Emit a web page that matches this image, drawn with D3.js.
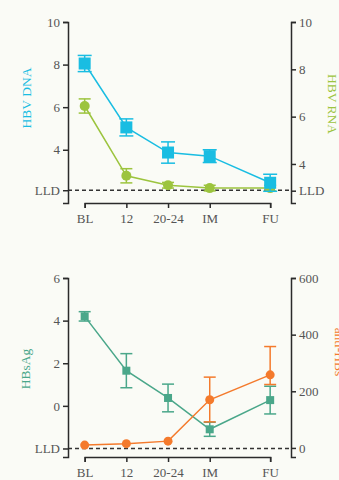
<!DOCTYPE html>
<html>
<head>
<meta charset="utf-8">
<script src="https://cdn.jsdelivr.net/npm/d3@7"></script>
<style>
  body { margin: 0; background: #fafbf6; }
  svg { display: block; font-family: "Liberation Serif", "DejaVu Serif", serif; }
</style>
</head>
<body>
<div id="root"></div>
<script>
// categories on the x axis (FU sits a bit further out)
const categories = ["BL", "12", "20-24", "IM", "FU"];
const catSlots = [0, 1, 2, 3, 4.45];

// top panel
const dnaMean = [8.05, 5.05, 3.87, 3.7, 2.45];
const dnaErr = [0.38, 0.4, 0.5, 0.3, 0.4];
const rnaMean = [6.45, 3.5, 3.1, 2.98, 2.98];
const rnaErr = [0.3, 0.3, 0.12, 0.12, 0.12];
const leftTicksTop = [4, 6, 8, 10];
const rightTicksTop = [4, 6, 8, 10];
const lldTopLeft = 2.1;
const lldTopRight = 2.87;

// bottom panel
const hbsMean = [4.2, 1.65, 0.37, -1.1, 0.27];
const hbsErr = [0.22, 0.8, 0.65, 0.33, 0.65];
const antiMean = [10, 15, 24, 170, 258];
const antiErrUp = [0, 0, 0, 80, 100];
const antiErrDown = [0, 0, 0, 78, 34];
const leftTicksBottom = [0, 2, 4, 6];
const rightTicksBottom = [0, 200, 400, 600];
const lldBottom = -2;

const W = 339, H = 480;
const left = 68, right = 291;
const blue = "#19bde2", green = "#9cc43e", teal = "#4aa78a", orange = "#f47a2c";
const axisColor = "#2b2b2b", tickText = "#555";

const svg = d3.select("#root").append("svg")
  .attr("width", W).attr("height", H);

const slot = d3.scaleLinear().domain([-0.4, 4.95]).range([left, right]);
const x = d3.scaleOrdinal().domain(categories).range(catSlots.map(slot));

function panel(cfg) {
  const g = svg.append("g");
  const yL = d3.scaleLinear().domain(cfg.leftDomain).range([cfg.bottom, cfg.top]);
  const yR = d3.scaleLinear().domain(cfg.rightDomain).range([cfg.bottom, cfg.top]);

  // LLD dashed line
  g.append("line")
    .attr("x1", left).attr("x2", right)
    .attr("y1", yL(cfg.lldLeft)).attr("y2", yL(cfg.lldLeft))
    .attr("stroke", "#333").attr("stroke-width", 1.5)
    .attr("stroke-dasharray", "4,3");

  const leftTickVals = [cfg.lldLeft, ...cfg.leftTicks];
  const rightTickVals = cfg.rightLLD ? [cfg.lldRight, ...cfg.rightTicks] : cfg.rightTicks;
  const leftAxis = d3.axisLeft(yL)
    .tickValues(leftTickVals)
    .tickFormat(d => d === cfg.lldLeft ? "LLD" : d).tickSizeOuter(0).tickSize(5);
  const rightAxis = d3.axisRight(yR)
    .tickValues(rightTickVals)
    .tickFormat(d => cfg.rightLLD && d === cfg.lldRight ? "LLD" : d).tickSizeOuter(0).tickSize(5);
  const bottomAxis = d3.axisBottom(x).tickSizeOuter(0).tickSize(5);

  const style = a => {
    a.selectAll("path,line").attr("stroke", axisColor).attr("stroke-width", 1.5);
    a.selectAll("text").attr("fill", tickText).attr("font-size", 13)
      .attr("font-family", "Liberation Serif, serif");
  };
  g.append("g").attr("transform", `translate(${left},0)`).call(leftAxis).call(style);
  g.append("g").attr("transform", `translate(${right},0)`).call(rightAxis).call(style);
  g.append("g").attr("transform", `translate(0,${cfg.bottom})`).call(bottomAxis)
    .call(style).selectAll("text").attr("dy", "0.9em");

  cfg.series.forEach(s => {
    const y = s.axis === "left" ? yL : yR;
    const pts = categories.map((c, i) => ({
      c, v: s.mean[i],
      hi: s.mean[i] + s.up[i], lo: s.mean[i] - s.down[i]
    }));
    const sg = g.append("g");
    sg.append("path").datum(pts)
      .attr("fill", "none").attr("stroke", s.color).attr("stroke-width", 1.5)
      .attr("d", d3.line().x(d => x(d.c)).y(d => y(d.v)));
    const eb = sg.selectAll(".eb").data(pts.filter(d => d.hi !== d.lo)).join("g")
      .attr("stroke", s.color).attr("stroke-width", 1.5);
    eb.append("line").attr("x1", d => x(d.c)).attr("x2", d => x(d.c))
      .attr("y1", d => y(d.hi)).attr("y2", d => y(d.lo));
    eb.append("line").attr("x1", d => x(d.c) - s.cap).attr("x2", d => x(d.c) + s.cap)
      .attr("y1", d => y(d.hi)).attr("y2", d => y(d.hi));
    eb.append("line").attr("x1", d => x(d.c) - s.cap).attr("x2", d => x(d.c) + s.cap)
      .attr("y1", d => y(d.lo)).attr("y2", d => y(d.lo));
    if (s.shape === "square") {
      sg.selectAll("rect").data(pts).join("rect")
        .attr("x", d => x(d.c) - s.size / 2).attr("y", d => y(d.v) - s.size / 2)
        .attr("width", s.size).attr("height", s.size).attr("fill", s.color);
    } else {
      sg.selectAll("circle").data(pts).join("circle")
        .attr("cx", d => x(d.c)).attr("cy", d => y(d.v))
        .attr("r", s.size / 2).attr("fill", s.color);
    }
  });

  cfg.labels.forEach(l => {
    g.append("text")
      .attr("transform", `translate(${l.x},${l.y}) rotate(${l.rot})`)
      .attr("text-anchor", "middle").attr("dominant-baseline", "middle")
      .attr("fill", l.color).attr("font-size", 13.5)
      .text(l.text);
  });
}

panel({
  top: 22, bottom: 203,
  leftDomain: [1.5, 10], rightDomain: [2.35, 10],
  leftTicks: leftTicksTop, rightTicks: rightTicksTop,
  lldLeft: lldTopLeft, lldRight: lldTopRight, rightLLD: true,
  series: [
    { mean: rnaMean, up: rnaErr, down: rnaErr, axis: "right", color: green, shape: "circle", size: 10, cap: 6 },
    { mean: dnaMean, up: dnaErr, down: dnaErr, axis: "left", color: blue, shape: "square", size: 12, cap: 7 }
  ],
  labels: [
    { text: "HBV DNA", x: 28, y: 98, rot: -90, color: blue },
    { text: "HBV RNA", x: 331, y: 104, rot: 90, color: green }
  ]
});

panel({
  top: 278, bottom: 457,
  leftDomain: [-2.4, 6], rightDomain: [-32, 600],
  leftTicks: leftTicksBottom, rightTicks: rightTicksBottom,
  lldLeft: lldBottom, lldRight: 0, rightLLD: false,
  series: [
    { mean: hbsMean, up: hbsErr, down: hbsErr, axis: "left", color: teal, shape: "square", size: 8, cap: 6 },
    { mean: antiMean, up: antiErrUp, down: antiErrDown, axis: "right", color: orange, shape: "circle", size: 9, cap: 6 }
  ],
  labels: [
    { text: "HBsAg", x: 27, y: 369, rot: -90, color: teal },
    { text: "anti-HBs", x: 338, y: 352, rot: 90, color: orange }
  ]
});
</script>
</body>
</html>
